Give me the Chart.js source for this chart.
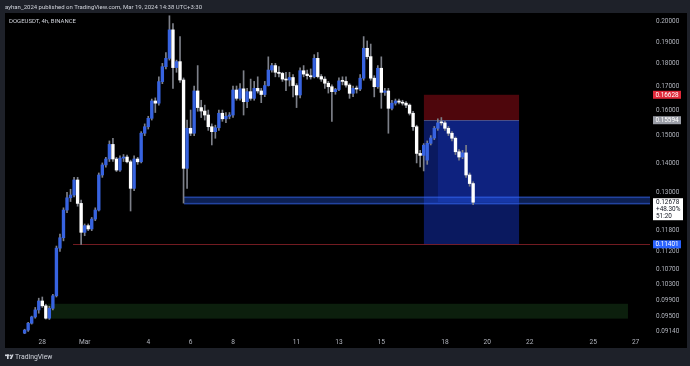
<!DOCTYPE html>
<html>
<head>
<meta charset="utf-8">
<title>DOGEUSDT 4h</title>
<script src="https://cdn.jsdelivr.net/npm/chart.js@4.4.1/dist/chart.umd.min.js"></script>
<style>
	html, body { margin: 0; padding: 0; background: #1e2129; }
	canvas { display: block; }
</style>
</head>
<body>
<canvas id="dogeChart" width="690" height="366"></canvas>
<script>
// 4h candles, DOGEUSDT on Binance, first bar Feb 27 04:00
const opens = [
	0.0911, 0.0918, 0.0934, 0.0949, 0.0966, 0.0988, 0.0976, 0.0946, 0.0970, 0.1001,
	0.1129, 0.1159, 0.1243, 0.1282, 0.1291, 0.1341, 0.1264, 0.1175, 0.1195, 0.1185,
	0.1215, 0.1243, 0.1358, 0.1393, 0.1414, 0.1467, 0.1414, 0.1375, 0.1417, 0.1421,
	0.1404, 0.1313, 0.1414, 0.1404, 0.1509, 0.1534, 0.1567, 0.1637, 0.1628, 0.1719,
	0.1785, 0.1823, 0.1959, 0.1781, 0.1808, 0.1726, 0.1381, 0.1528, 0.1509, 0.1679,
	0.1610, 0.1596, 0.1580, 0.1534, 0.1515, 0.1530, 0.1587, 0.1565, 0.1575, 0.1580,
	0.1683, 0.1648, 0.1688, 0.1634, 0.1676, 0.1648, 0.1690, 0.1679, 0.1664, 0.1702,
	0.1770, 0.1790, 0.1760, 0.1755, 0.1730, 0.1726, 0.1737, 0.1702, 0.1662, 0.1767,
	0.1752, 0.1745, 0.1740, 0.1823, 0.1741, 0.1730, 0.1712, 0.1697, 0.1676, 0.1685,
	0.1722, 0.1720, 0.1704, 0.1669, 0.1690, 0.1687, 0.1734, 0.1870, 0.1831, 0.1734,
	0.1697, 0.1778, 0.1673, 0.1679, 0.1607, 0.1628, 0.1637, 0.1632, 0.1628, 0.1620,
	0.1587, 0.1534, 0.1434, 0.1427, 0.1410, 0.1471, 0.1491, 0.1528, 0.1551, 0.1549,
	0.1528, 0.1509, 0.1490, 0.1440, 0.1421, 0.1436, 0.1358, 0.1329,
]
const highs = [
	0.0920, 0.0936, 0.0951, 0.0972, 0.0995, 0.0998, 0.0980, 0.0975, 0.1005, 0.1135,
	0.1170, 0.1250, 0.1300, 0.1310, 0.1350, 0.1350, 0.1275, 0.1200, 0.1200, 0.1220,
	0.1250, 0.1365, 0.1400, 0.1420, 0.1480, 0.1490, 0.1420, 0.1425, 0.1430, 0.1428,
	0.1410, 0.1425, 0.1420, 0.1515, 0.1545, 0.1575, 0.1645, 0.1650, 0.1740, 0.1800,
	0.1850, 0.2030, 0.1990, 0.1815, 0.1926, 0.1735, 0.1560, 0.1600, 0.1700, 0.1790,
	0.1640, 0.1620, 0.1600, 0.1545, 0.1540, 0.1600, 0.1600, 0.1590, 0.1590, 0.1700,
	0.1700, 0.1710, 0.1767, 0.1690, 0.1730, 0.1720, 0.1740, 0.1690, 0.1720, 0.1830,
	0.1800, 0.1800, 0.1785, 0.1760, 0.1760, 0.1760, 0.1750, 0.1710, 0.1780, 0.1790,
	0.1770, 0.1775, 0.1840, 0.1850, 0.1750, 0.1740, 0.1720, 0.1705, 0.1690, 0.1735,
	0.1740, 0.1740, 0.1710, 0.1700, 0.1700, 0.1750, 0.1926, 0.1905, 0.1890, 0.1745,
	0.1790, 0.1830, 0.1690, 0.1690, 0.1640, 0.1645, 0.1645, 0.1640, 0.1635, 0.1625,
	0.1595, 0.1540, 0.1445, 0.1470, 0.1480, 0.1500, 0.1535, 0.1565, 0.1570, 0.1555,
	0.1535, 0.1515, 0.1495, 0.1448, 0.1445, 0.1464, 0.1365, 0.1335,
]
const lows = [
	0.0909, 0.0915, 0.0932, 0.0946, 0.0958, 0.0972, 0.0944, 0.0943, 0.0966, 0.0998,
	0.1120, 0.1150, 0.1235, 0.1270, 0.1285, 0.1255, 0.1140, 0.1165, 0.1180, 0.1180,
	0.1210, 0.1240, 0.1350, 0.1385, 0.1405, 0.1405, 0.1370, 0.1370, 0.1405, 0.1400,
	0.1240, 0.1305, 0.1395, 0.1400, 0.1500, 0.1525, 0.1560, 0.1590, 0.1620, 0.1710,
	0.1775, 0.1815, 0.1690, 0.1760, 0.1715, 0.1265, 0.1313, 0.1500, 0.1500, 0.1595,
	0.1570, 0.1560, 0.1520, 0.1465, 0.1490, 0.1520, 0.1555, 0.1550, 0.1565, 0.1570,
	0.1640, 0.1640, 0.1580, 0.1610, 0.1640, 0.1640, 0.1670, 0.1630, 0.1655, 0.1700,
	0.1760, 0.1740, 0.1740, 0.1720, 0.1680, 0.1700, 0.1654, 0.1610, 0.1650, 0.1740,
	0.1730, 0.1730, 0.1735, 0.1735, 0.1720, 0.1690, 0.1670, 0.1555, 0.1665, 0.1680,
	0.1705, 0.1695, 0.1648, 0.1655, 0.1670, 0.1680, 0.1725, 0.1820, 0.1725, 0.1654,
	0.1690, 0.1607, 0.1660, 0.1509, 0.1600, 0.1620, 0.1625, 0.1620, 0.1610, 0.1580,
	0.1520, 0.1400, 0.1386, 0.1372, 0.1395, 0.1465, 0.1485, 0.1520, 0.1540, 0.1520,
	0.1500, 0.1480, 0.1430, 0.1410, 0.1415, 0.1350, 0.1320, 0.1260,
]
const closes = [
	0.0918, 0.0934, 0.0949, 0.0966, 0.0988, 0.0976, 0.0946, 0.0970, 0.1001, 0.1129,
	0.1159, 0.1243, 0.1282, 0.1291, 0.1341, 0.1264, 0.1175, 0.1195, 0.1185, 0.1215,
	0.1243, 0.1358, 0.1393, 0.1414, 0.1467, 0.1414, 0.1375, 0.1417, 0.1421, 0.1404,
	0.1313, 0.1414, 0.1404, 0.1509, 0.1534, 0.1567, 0.1637, 0.1628, 0.1719, 0.1785,
	0.1823, 0.1959, 0.1781, 0.1808, 0.1726, 0.1381, 0.1528, 0.1509, 0.1679, 0.1610,
	0.1596, 0.1580, 0.1534, 0.1515, 0.1530, 0.1587, 0.1565, 0.1575, 0.1580, 0.1683,
	0.1648, 0.1688, 0.1634, 0.1676, 0.1648, 0.1690, 0.1679, 0.1664, 0.1702, 0.1770,
	0.1790, 0.1760, 0.1755, 0.1730, 0.1726, 0.1737, 0.1702, 0.1662, 0.1767, 0.1752,
	0.1745, 0.1740, 0.1823, 0.1741, 0.1730, 0.1712, 0.1697, 0.1676, 0.1685, 0.1722,
	0.1720, 0.1704, 0.1669, 0.1690, 0.1687, 0.1734, 0.1870, 0.1831, 0.1734, 0.1697,
	0.1778, 0.1673, 0.1679, 0.1607, 0.1628, 0.1637, 0.1632, 0.1628, 0.1620, 0.1587,
	0.1534, 0.1434, 0.1427, 0.1464, 0.1471, 0.1491, 0.1528, 0.1549, 0.1549, 0.1528,
	0.1509, 0.1490, 0.1440, 0.1421, 0.1436, 0.1358, 0.1329, 0.12678,
]

// time axis in days, 0 = Feb 28 00:00
const firstBarDay = -20 / 24
const barDays = 4 / 24
const dayTicks = [0, 2, 5, 7, 9, 12, 14, 16, 19, 21, 23, 26, 28]
const dayLabels = ["28", "Mar", "4", "6", "8", "11", "13", "15", "18", "20", "22", "25", "27"]
const priceTicks = [0.2, 0.19, 0.18, 0.17, 0.16, 0.15, 0.14, 0.13, 0.118, 0.112, 0.107, 0.103, 0.099, 0.095, 0.0914]

// drawings on the chart
const stopPrice = 0.16628
const entryPrice = 0.15594
const targetPrice = 0.11401
const lastPrice = 0.12678
const lastChange = "+48.30%"
const barCountdown = "51:20"
const positionFrom = 18.01
const positionTo = 22.5
const entryDay = 18.67
const demandFrom = 0.27
const demandTo = 27.64
const demandLow = 0.0945
const demandHigh = 0.0981
const bandFrom = 6.69
const bandLow = 0.1261
const bandHigh = 0.1286
const lineFrom = 1.45

const upColor = "#3763e0"
const downColor = "#ffffff"
const textColor = "#b2b5be"
const frameColor = "#1e2129"

Chart.defaults.font.family = "Roboto"

const barTimes = opens.map((o, i) => firstBarDay + i * barDays)
const bodies = barTimes.map((t, i) => ({ x: t, y: [opens[i], closes[i]] }))
const wicks = barTimes.map((t, i) => ({ x: t, y: [lows[i], highs[i]] }))
const candleColors = opens.map((o, i) => (closes[i] >= o ? upColor : downColor))

const tvDrawings = {
	id: "tvDrawings",
	beforeDraw(chart) {
		const c = chart.ctx
		c.save()
		c.fillStyle = frameColor
		c.fillRect(0, 0, chart.width, chart.height)
		c.fillStyle = "#000000"
		c.fillRect(5, 13, chart.width - 8, 335)
		c.restore()
	},
	beforeDatasetsDraw(chart) {
		const c = chart.ctx
		const area = chart.chartArea
		const px = (d) => chart.scales.x.getPixelForValue(d)
		const py = (p) => chart.scales.y.getPixelForValue(p)
		c.save()

		// demand zone
		c.fillStyle = "rgba(46, 125, 50, 0.25)"
		c.fillRect(px(demandFrom), py(demandHigh), px(demandTo) - px(demandFrom), py(demandLow) - py(demandHigh))

		// short position: stop and target boxes
		const left = px(positionFrom)
		const right = px(positionTo)
		c.fillStyle = "rgba(130, 10, 20, 0.6)"
		c.fillRect(left, py(stopPrice), right - left, py(entryPrice) - py(stopPrice))
		c.fillStyle = "rgba(20, 50, 190, 0.5)"
		c.fillRect(left, py(entryPrice), right - left, py(targetPrice) - py(entryPrice))
		c.fillStyle = "rgba(30, 70, 255, 0.2)"
		c.fillRect(px(entryDay), py(entryPrice), right - px(entryDay), py(lastPrice) - py(entryPrice))
		c.fillStyle = "rgba(180, 180, 200, 0.35)"
		c.fillRect(left, Math.round(py(entryPrice)), right - left, 1)

		// horizontal band
		const bt = py(bandHigh)
		const bb = py(bandLow)
		c.fillStyle = "rgba(41, 98, 255, 0.32)"
		c.fillRect(px(bandFrom), bt, area.right - px(bandFrom), bb - bt)
		c.fillStyle = "rgba(60, 110, 255, 0.45)"
		c.fillRect(px(bandFrom), bt, area.right - px(bandFrom), 1.5)
		c.fillRect(px(bandFrom), bb - 1.5, area.right - px(bandFrom), 1.5)

		// target line
		c.fillStyle = "rgba(190, 45, 55, 0.6)"
		c.fillRect(px(lineFrom), Math.round(py(targetPrice)), area.right - px(lineFrom), 1)

		c.restore()
	},
	afterDraw(chart) {
		const c = chart.ctx
		const py = (p) => chart.scales.y.getPixelForValue(p)
		c.save()
		c.textBaseline = "middle"
		c.textAlign = "left"

		c.fillStyle = "#d1d4dc"
		c.font = "6px Roboto"
		c.fillText("ayhan_2024 published on TradingView.com, Mar 19, 2024 14:38 UTC+3:30", 5, 7, 197)
		c.fillText("DOGEUSDT, 4h, BINANCE", 9, 21.7, 67)

		// footer logo and name
		c.fillStyle = "#d1d4dc"
		c.fillRect(5, 354.5, 4, 1.6)
		c.fillRect(7, 354.5, 1.6, 4.5)
		c.beginPath()
		c.arc(10.3, 355.4, 0.9, 0, Math.PI * 2)
		c.fill()
		c.beginPath()
		c.moveTo(11.8, 354.5)
		c.lineTo(13.6, 354.5)
		c.lineTo(11.6, 359)
		c.lineTo(9.8, 359)
		c.closePath()
		c.fill()
		c.font = "6.8px Roboto"
		c.fillText("TradingView", 15, 357)

		// price labels on the axis
		const tag = (price, bg, fg, text) => {
			const y = py(price)
			c.fillStyle = bg
			c.fillRect(653, y - 4, 28, 8)
			c.fillStyle = fg
			c.textAlign = "center"
			c.font = "6.4px Roboto"
			c.fillText(text, 667, y + 0.3)
		}
		tag(stopPrice, "#e0293a", "#ffffff", stopPrice.toFixed(5))
		tag(entryPrice, "#9a9da6", "#ffffff", entryPrice.toFixed(5))
		tag(targetPrice, "#2962ff", "#ffffff", targetPrice.toFixed(5))

		const ly = py(lastPrice)
		c.fillStyle = "#ffffff"
		c.fillRect(653, ly - 4, 30, 22)
		c.fillStyle = "#131722"
		c.textAlign = "left"
		c.font = "6.4px Roboto"
		c.fillText(lastPrice.toFixed(5), 656, ly + 0.3)
		c.fillText(lastChange, 656, ly + 7)
		c.fillText(barCountdown, 656, ly + 13.8)
		c.restore()
	},
}

new Chart(document.getElementById("dogeChart"), {
	type: "bar",
	data: {
		datasets: [
			{
				label: "Body",
				data: bodies,
				backgroundColor: candleColors,
				barThickness: 2.7,
				minBarLength: 1,
				grouped: false,
				order: 0,
			},
			{
				label: "Wick",
				data: wicks,
				backgroundColor: "#7d8089",
				barThickness: 1,
				grouped: false,
				order: 1,
			},
		],
	},
	options: {
		responsive: false,
		animation: false,
		layout: { padding: { top: 14, left: 5, right: 4, bottom: 18 } },
		plugins: { legend: { display: false }, tooltip: { enabled: false } },
		scales: {
			x: {
				type: "linear",
				min: -1.76,
				max: 28.68,
				offset: false,
				grid: { display: false, drawTicks: false },
				border: { display: false },
				afterBuildTicks: (scale) => {
					scale.ticks = dayTicks.map((v) => ({ value: v }))
				},
				afterFit: (scale) => {
					scale.height = 14
				},
				ticks: {
					color: textColor,
					font: { size: 6.6 },
					padding: 4,
					maxRotation: 0,
					autoSkip: false,
					callback: (v, i) => dayLabels[i],
				},
			},
			y: {
				type: "logarithmic",
				position: "right",
				min: 0.0909,
				max: 0.2039,
				grid: { display: false, drawTicks: false },
				border: { display: false },
				afterBuildTicks: (scale) => {
					scale.ticks = priceTicks.map((v) => ({ value: v }))
				},
				afterFit: (scale) => {
					scale.width = 36
				},
				ticks: {
					color: textColor,
					font: { size: 6.4 },
					padding: 6,
					autoSkip: false,
					callback: (v, i) => priceTicks[i].toFixed(5),
				},
			},
		},
	},
	plugins: [tvDrawings],
})
</script>
</body>
</html>
